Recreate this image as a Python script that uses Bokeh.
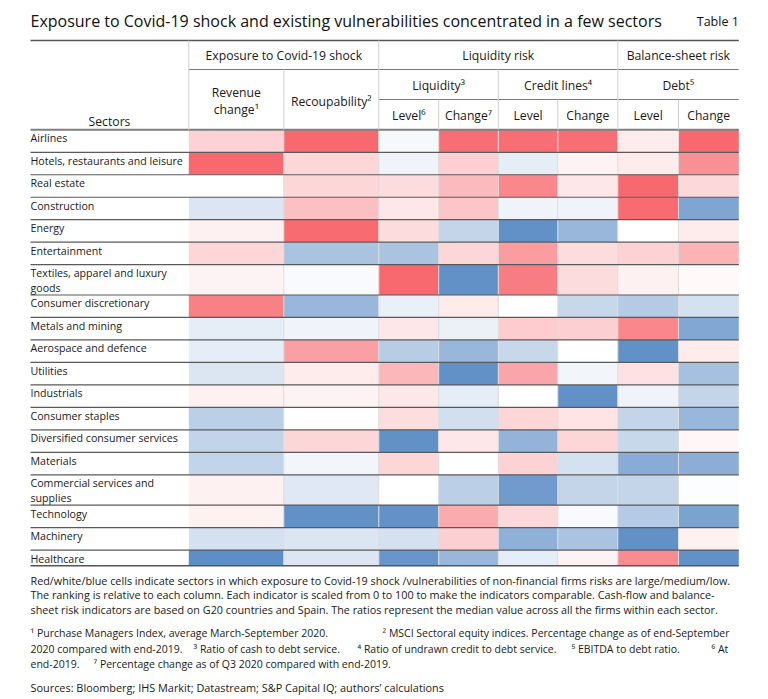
from bokeh.plotting import figure
from bokeh.models import Range1d, ColumnDataSource
from bokeh.transform import linear_cmap
from bokeh.embed import file_html
from bokeh.resources import INLINE
from bokeh.core.properties import value

# ---------------- data ----------------
sectors = [
    "Airlines", "Hotels, restaurants and leisure", "Real estate", "Construction",
    "Energy", "Entertainment", "Textiles, apparel and luxury\ngoods",
    "Consumer discretionary", "Metals and mining", "Aerospace and defence",
    "Utilities", "Industrials", "Consumer staples", "Diversified consumer services",
    "Materials", "Commercial services and\nsupplies", "Technology", "Machinery",
    "Healthcare",
]
# 0 = low risk (blue), 50 = medium (white), 100 = large (red)
revenue_change      = [65, 100, 50, 39, 55, 64, 54, 92, 42, 42, 39, 55, 29, 31, 31, 55, 55, 37, 1]
recoupability       = [100, 64, 64, 71, 99, 24, 48, 19, 45, 82, 57, 54, 50, 64, 46, 40, 2, 39, 39]
liquidity_level     = [47, 45, 62, 58, 62, 24, 100, 43, 58, 28, 74, 58, 61, 2, 64, 50, 3, 37, 4]
liquidity_change    = [98, 66, 73, 69, 32, 64, 2, 57, 44, 19, 2, 42, 36, 58, 50, 29, 78, 66, 19]
credit_lines_level  = [98, 42, 90, 45, 2, 83, 93, 50, 67, 33, 80, 50, 64, 17, 65, 7, 63, 16, 42]
credit_lines_change = [98, 54, 58, 45, 19, 62, 62, 33, 66, 50, 46, 2, 59, 64, 37, 32, 48, 24, 54]
debt_level          = [57, 57, 100, 99, 50, 65, 55, 27, 90, 2, 60, 45, 32, 33, 14, 32, 27, 2, 88]
debt_change         = [100, 87, 63, 11, 57, 75, 52, 37, 12, 57, 23, 32, 19, 53, 15, 49, 10, 55, 2]

columns = [revenue_change, recoupability, liquidity_level, liquidity_change,
           credit_lines_level, credit_lines_change, debt_level, debt_change]

group_headers = ["Exposure to Covid-19 shock", "Liquidity risk", "Balance-sheet risk"]
sub_headers = ["Liquidity\u00b3", "Credit lines\u2074", "Debt\u2075"]
leaf_headers = ["Level\u2076", "Change\u2077", "Level", "Change", "Level", "Change"]

title = "Exposure to Covid-19 shock and existing vulnerabilities concentrated in a few sectors"
notes = [
    "Red/white/blue cells indicate sectors in which exposure to Covid-19 shock /vulnerabilities of non-financial firms risks are large/medium/low.",
    "The ranking is relative to each column. Each indicator is scaled from 0 to 100 to make the indicators comparable. Cash-flow and balance-",
    "sheet risk indicators are based on G20 countries and Spain. The ratios represent the median value across all the firms within each sector.",
]
footnote_lines = [
    ["\u00b9 Purchase Managers Index, average March-September 2020.",
     "\u00b2 MSCI Sectoral equity indices. Percentage change as of end-September"],
    ["2020 compared with end-2019.", "\u00b3 Ratio of cash to debt service.",
     "\u2074 Ratio of undrawn credit to debt service.", "\u2075 EBITDA to debt ratio.", "\u2076 At"],
    ["end-2019.", "\u2077 Percentage change as of Q3 2020 compared with end-2019."],
]
sources = "Sources: Bloomberg; IHS Markit; Datastream; S&P Capital IQ; authors\u2019 calculations"

# ---------------- layout ----------------
FONT = value("Open Sans")
W, H = 760, 695
LEFT, RIGHT = 30, 738.3
col_edges = [188.3, 283.3, 378.3, 438.2, 497.8, 557.3, 617.3, 678.0, 738.3]
TOP_LINE, H1, H2, HEAD_BOTTOM = 40, 69, 99, 129.3
SINGLE, DOUBLE, LAST = 22.48, 30.3, 15.7
footnote_x = [[30, 382], [30, 193, 357, 571, 711], [30, 93]]
footnote_y = [632.7, 648.3, 663.3]


def lerp(c1, c2, t):
    return "#%02x%02x%02x" % tuple(int(round(a + (b - a) * t)) for a, b in zip(c1, c2))


blue, white, red = (91, 140, 197), (255, 255, 255), (247, 105, 111)
palette = [lerp(blue, white, i / 127) for i in range(128)] + [lerp(white, red, i / 127) for i in range(128)]

p = figure(width=W, height=H, output_backend="svg", toolbar_location=None,
           x_range=Range1d(0, W), y_range=Range1d(H, 0), min_border=0)
p.axis.visible = False
p.grid.visible = False
p.outline_line_color = None
p.background_fill_color = "white"

# row geometry
row_tops, row_bottoms = [], []
y = HEAD_BOTTOM
for i, s in enumerate(sectors):
    h = LAST if i == len(sectors) - 1 else (DOUBLE if "\n" in s else SINGLE)
    row_tops.append(y)
    row_bottoms.append(y + h)
    y += h

# cells
cl, cr, ct, cb, cv = [], [], [], [], []
for j, col in enumerate(columns):
    for i, v in enumerate(col):
        cl.append(col_edges[j]); cr.append(col_edges[j + 1])
        ct.append(row_tops[i]); cb.append(row_bottoms[i]); cv.append(v)
src = ColumnDataSource(dict(left=cl, right=cr, top=ct, bottom=cb, v=cv))
p.quad(left="left", right="right", top="top", bottom="bottom", source=src,
       fill_color=linear_cmap("v", palette, 0, 100), line_color=None)

# thin vertical cell separators
p.segment(x0=col_edges[1:-1], x1=col_edges[1:-1], y0=[HEAD_BOTTOM] * 7, y1=[row_bottoms[-1]] * 7,
          line_color="#dcdcdc", line_width=1)

# row separators
ys = row_bottoms[:-1]
p.segment(x0=[LEFT] * len(ys), x1=[RIGHT] * len(ys), y0=ys, y1=ys, line_color="#5a5a5a", line_width=1.2)

# header rules
p.segment(x0=[LEFT], x1=[RIGHT], y0=[TOP_LINE], y1=[TOP_LINE], line_color="#555555", line_width=1.5)
p.segment(x0=[col_edges[0]], x1=[RIGHT], y0=[H1], y1=[H1], line_color="#7a7a7a", line_width=1)
p.segment(x0=[col_edges[2]], x1=[RIGHT], y0=[H2], y1=[H2], line_color="#7a7a7a", line_width=1)
p.segment(x0=[LEFT], x1=[RIGHT], y0=[HEAD_BOTTOM], y1=[HEAD_BOTTOM], line_color="#7f7f7f", line_width=2)
p.segment(x0=[LEFT], x1=[RIGHT], y0=[row_bottoms[-1]], y1=[row_bottoms[-1]], line_color="#555555", line_width=1.6)
vx = [col_edges[0], col_edges[2], col_edges[6], col_edges[1], col_edges[4], col_edges[3], col_edges[5], col_edges[7]]
vy0 = [TOP_LINE, TOP_LINE, TOP_LINE, H1, H1, H2, H2, H2]
p.segment(x0=vx, x1=vx, y0=vy0, y1=[HEAD_BOTTOM] * len(vx), line_color="#cfcfcf", line_width=1)

TXT = "#1a1a1a"
HF = "12.2px"
# title
p.text(x=[LEFT], y=[20], text=[title], text_font=FONT, text_font_size="16px",
       text_align="left", text_baseline="middle", text_color="#111111")
p.text(x=[RIGHT], y=[21], text=["Table 1"], text_font=FONT, text_font_size="12.5px",
       text_align="right", text_baseline="middle", text_color="#111111")

# headers
gx = [(col_edges[0] + col_edges[2]) / 2, (col_edges[2] + col_edges[6]) / 2, (col_edges[6] + col_edges[8]) / 2]
p.text(x=gx, y=[55] * 3, text=group_headers, text_font=FONT, text_font_size=HF,
       text_align="center", text_baseline="middle", text_color=TXT)
sx = [(col_edges[2] + col_edges[4]) / 2, (col_edges[4] + col_edges[6]) / 2, (col_edges[6] + col_edges[8]) / 2]
p.text(x=sx, y=[85] * 3, text=sub_headers, text_font=FONT, text_font_size=HF,
       text_align="center", text_baseline="middle", text_color=TXT)
lx = [(col_edges[k] + col_edges[k + 1]) / 2 for k in range(2, 8)]
p.text(x=lx, y=[115] * 6, text=leaf_headers, text_font=FONT, text_font_size=HF,
       text_align="center", text_baseline="middle", text_color=TXT)
rx = (col_edges[0] + col_edges[1]) / 2
p.text(x=[rx, rx, (col_edges[1] + col_edges[2]) / 2], y=[92, 108.5, 100.5],
       text=["Revenue", "change\u00b9", "Recoupability\u00b2"], text_font=FONT, text_font_size=HF,
       text_align="center", text_baseline="middle", text_color=TXT)
p.text(x=[109], y=[121], text=["Sectors"], text_font=FONT, text_font_size=HF,
       text_align="center", text_baseline="middle", text_color=TXT)

# row labels
lxs, lys, lts = [], [], []
for i, s in enumerate(sectors):
    for k, part in enumerate(s.split("\n")):
        lxs.append(LEFT); lys.append(row_tops[i] + 8.5 + 15 * k); lts.append(part)
p.text(x=lxs, y=lys, text=lts, text_font=FONT, text_font_size="10.65px",
       text_align="left", text_baseline="middle", text_color=TXT)

# notes
p.text(x=[LEFT] * 3, y=[580, 594.3, 608.7], text=notes, text_font=FONT, text_font_size="10.8px",
       text_align="left", text_baseline="middle", text_color=TXT)
fx, fy, ft = [], [], []
for yy, xs, line in zip(footnote_y, footnote_x, footnote_lines):
    for x0, t in zip(xs, line):
        fx.append(x0); fy.append(yy); ft.append(t)
p.text(x=fx, y=fy, text=ft, text_font=FONT, text_font_size="10.5px",
       text_align="left", text_baseline="middle", text_color=TXT)
p.text(x=[LEFT], y=[687.3], text=[sources], text_font=FONT, text_font_size="10.9px",
       text_align="left", text_baseline="middle", text_color=TXT)

open("out.html", "w").write(file_html(p, INLINE))
